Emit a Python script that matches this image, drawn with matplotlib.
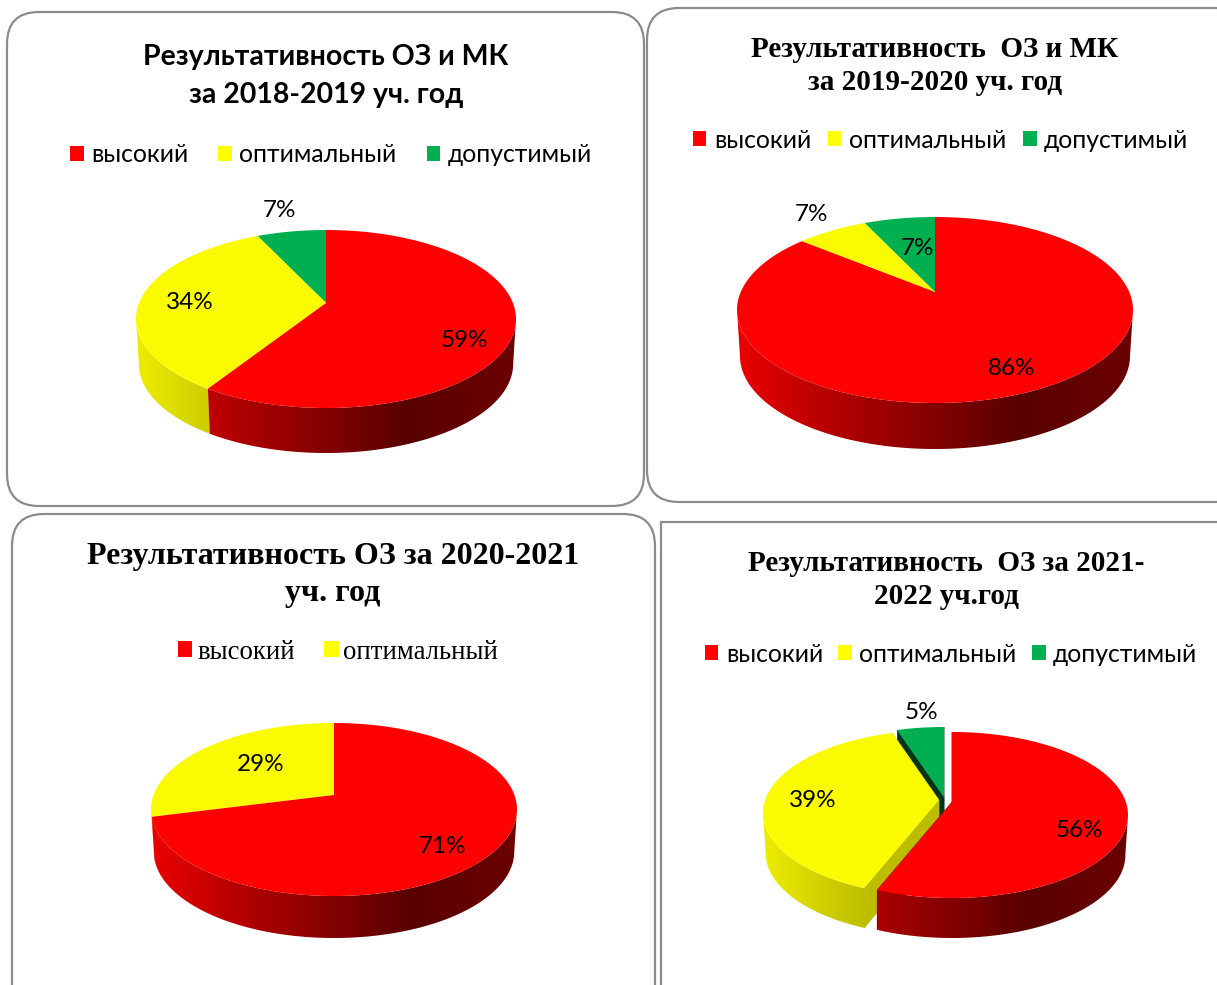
import numpy as np
import matplotlib
matplotlib.use("Agg")
import matplotlib.pyplot as plt
from matplotlib.colors import to_rgb
from matplotlib.patches import FancyBboxPatch, Rectangle, Patch, Polygon

# ---------- data ----------
categories = ["высокий", "оптимальный", "допустимый"]
values_1819 = [59, 34, 7]
values_1920 = [86, 7, 7]
values_2021 = [71, 29]
values_2122 = [56, 39, 5]
title_1819 = "Результативность ОЗ и МК\nза 2018-2019 уч. год"
title_1920 = "Результативность  ОЗ и МК\nза 2019-2020 уч. год"
title_2021 = "Результативность ОЗ за 2020-2021\nуч. год"
title_2122 = "Результативность  ОЗ за 2021-\n2022 уч.год"

# ---------- style ----------
COLORS = ["#FF0000", "#FBFB00", "#00B050"]
LEG_COLORS = ["#FF0000", "#FFFF00", "#00B050"]
FACE_SHADE = [0.4, 0.75, 0.3]
SHADE_GAMMA = [1.0, 0.7, 1.0]
SANS = ["Lato", "Open Sans", "DejaVu Sans"]
SERIF = ["Liberation Serif", "DejaVu Serif"]
W, H = 1217, 985
fig = plt.figure(figsize=(W / 100, H / 100), dpi=100, facecolor="white")


def shade(frac):
    return np.interp(frac, [0, .2, .45, .71, 1], [.92, .74, .55, .35, .42])


def make_axes(box):
    x0, y0, x1, y1 = box
    ax = fig.add_axes([x0 / W, 1 - y1 / H, (x1 - x0) / W, (y1 - y0) / H])
    ax.set_xlim(x0, x1)
    ax.set_ylim(y1, y0)
    ax.axis("off")
    return ax


def pie3d(ax, values, apex, rx, up, down, depth, offsets=None):
    k = (down - up) / (down + up)
    B = up * (1 + k)
    A = rx * np.sqrt(1 - k * k)

    def rim(theta, a):
        t = np.radians(theta)
        u, v = np.sin(t), np.cos(t)
        w = 1 + k * v
        return a[0] + A * u / w, a[1] - B * v / w

    th_r = np.degrees(np.arccos(-k))
    th_l = 360 - th_r
    edges = np.concatenate([[0], np.cumsum(values) / np.sum(values) * 360])
    for i in reversed(range(len(values))):
        a = offsets[i] if offsets else apex
        col = np.array(to_rgb(COLORS[i]))
        s, e = edges[i], edges[i + 1]
        if offsets:
            for ang in (e, s):
                x, y = rim(ang, a)
                ax.fill([a[0], x, x, a[0]], [a[1], y, y + depth, a[1] + depth],
                        color=col * FACE_SHADE[i], lw=0.3, zorder=2)
        lo, hi = max(s, th_r), min(e, th_l)
        if hi > lo:
            ts = np.linspace(lo, hi, int((hi - lo) * 2) + 2)
            xs, ys = rim(ts, a)
            xb = a[0] + (xs - a[0]) * .985
            poly = Polygon(np.c_[np.r_[xs, xb[::-1]], np.r_[ys, ys[::-1] + depth]],
                           closed=True, transform=ax.transData, fc="none", ec="none")
            ax.add_patch(poly)
            fr = np.linspace(0, 1, 256)
            grad = (col[None, None, :] * (shade(fr) ** SHADE_GAMMA[i])[None, :, None]).clip(0, 1)
            ylim, xlim = ax.get_ylim(), ax.get_xlim()
            im = ax.imshow(grad, extent=(a[0] - rx, a[0] + rx, ys.max() + depth + 2, ys.min() - 2),
                           aspect="auto", zorder=2, interpolation="bilinear")
            im.set_clip_path(poly)
            ax.set_xlim(xlim)
            ax.set_ylim(ylim)
        ts = np.linspace(s, e, max(int(e - s) * 2, 3))
        xs, ys = rim(ts, a)
        ax.fill(np.r_[a[0], xs], np.r_[a[1], ys], color=COLORS[i], lw=0, zorder=3)


def legend(ax, n, center, fam, size, spacing, pad=0.3):
    hs = [Patch(color=LEG_COLORS[i], lw=0) for i in range(n)]
    ax.legend(hs, categories[:n], loc="center", bbox_to_anchor=center,
              bbox_transform=ax.transData, ncol=n, frameon=False,
              prop={"family": fam, "size": size}, columnspacing=spacing,
              handlelength=0.55, handleheight=0.55, handletextpad=pad,
              borderpad=0, borderaxespad=0)


def labels(ax, values, pos, size=17.5):
    for v, (x, y) in zip(values, pos):
        ax.text(x, y + 2.5, f"{v}%", ha="center", va="center", fontsize=size,
                family=SANS, zorder=5)


# ---------- frames ----------
bg = make_axes((0, 0, W, H))
frame = dict(fc="white", ec="#8C8C8C", lw=1.6)
for x, y, w, h in [(7, 12, 637, 494), (647, 8, 600, 494), (12, 514, 643, 510)]:
    bg.add_patch(FancyBboxPatch((x + 32, y + 32), w - 64, h - 64,
                                boxstyle="round,pad=32,rounding_size=32", **frame))
bg.add_patch(Rectangle((661, 522), 600, 500, **frame))

# ---------- chart 1 ----------
ax = make_axes((0, 0, 645, 510))
ax.text(326, 76, title_1819, ha="center", va="center", family=SANS, weight="bold",
        fontsize=20.5, linespacing=1.57)
legend(ax, 3, (331, 155), SANS, 17.8, 1.22)
pie3d(ax, values_1819, (326, 303), 190, 73, 105, 45)
labels(ax, values_1819, [(464, 338), (190, 300), (279, 208)])

# ---------- chart 2 ----------
ax = make_axes((645, 0, W, 505))
ax.text(935, 66, title_1920, ha="center", va="center", family=SERIF, weight="bold",
        fontsize=21, linespacing=1.25)
legend(ax, 3, (940.5, 140), SANS, 17.8, 0.68)
pie3d(ax, values_1920, (935, 292), 198, 75, 111, 46)
labels(ax, values_1920, [(1012, 366), (812, 212), (918, 246)])

# ---------- chart 3 ----------
ax = make_axes((0, 510, 658, H))
ax.text(333, 575, title_2021, ha="center", va="center", family=SERIF, weight="bold",
        fontsize=23, linespacing=1.34)
legend(ax, 2, (338, 652), SERIF, 19.3, 1.08, pad=0.18)
pie3d(ax, values_2021, (334, 795), 183, 72, 101, 42)
labels(ax, values_2021, [(443, 844), (261, 762)])

# ---------- chart 4 ----------
ax = make_axes((658, 515, W, H))
ax.text(946, 580, title_2122, ha="center", va="center", family=SERIF, weight="bold",
        fontsize=21, linespacing=1.25)
legend(ax, 3, (951, 654), SANS, 17.8, 0.62)
pie3d(ax, values_2122, (952, 802), 176, 70, 96, 40,
      offsets=[(952, 802), (939, 800), (944, 797)])
labels(ax, values_2122, [(1079, 828), (813, 798), (921, 710)])

fig.savefig("out.png", dpi=100)
